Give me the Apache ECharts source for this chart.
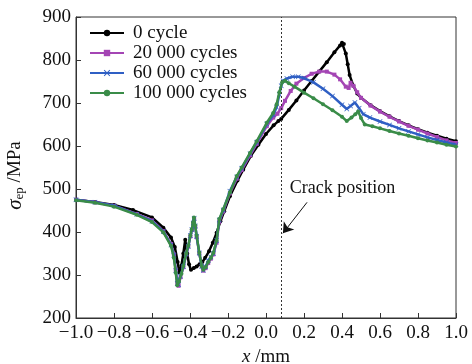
<!DOCTYPE html>
<html><head><meta charset="utf-8">
<script src="https://cdn.jsdelivr.net/npm/echarts@6/dist/echarts.min.js"></script>
<style>html,body{margin:0;padding:0;background:#fff}#c{width:472px;height:364px}</style>
</head><body><div id="c"></div>
<script>
// ---- data ----
const seriesNames = ['0 cycle', '20 000 cycles', '60 000 cycles', '100 000 cycles'];

const x0 = [-1.0,-0.9,-0.8,-0.7,-0.6,-0.54,-0.5,-0.48,-0.465,-0.456,-0.445,-0.435,-0.425,-0.415,-0.405,-0.395,-0.38,-0.365,-0.35,-0.335,-0.32,-0.3,-0.28,-0.26,-0.24,-0.22,-0.19,-0.15,-0.12,-0.08,-0.04,0.0,0.04,0.065,0.08,0.12,0.16,0.2,0.24,0.28,0.32,0.36,0.39,0.4,0.41,0.42,0.43,0.44,0.46,0.48,0.5,0.55,0.6,0.65,0.7,0.75,0.8,0.85,0.9,0.95,1.0];
const y0 = [475,470,463,451,434,410,387,365,330,306,322,350,382,350,325,312,316,320,325,330,340,355,375,398,425,448,483,520,545,577,603,628,648,658,663,684,706,729,751,773,795,818,834,840,837,815,790,765,740,722,712,695,681,669,658,648,639,631,624,617,611];

const x1 = [-1.0,-0.9,-0.8,-0.68,-0.6,-0.54,-0.5,-0.485,-0.475,-0.467,-0.46,-0.45,-0.435,-0.42,-0.409,-0.398,-0.39,-0.383,-0.378,-0.372,-0.365,-0.351,-0.338,-0.33,-0.318,-0.304,-0.29,-0.277,-0.26,-0.246,-0.225,-0.19,-0.154,-0.128,-0.084,-0.049,0.004,0.038,0.06,0.08,0.1,0.13,0.16,0.2,0.24,0.28,0.32,0.36,0.39,0.42,0.435,0.445,0.46,0.48,0.5,0.55,0.6,0.65,0.7,0.75,0.8,0.85,0.9,0.95,1.0];
const y1 = [475,469,461,442,427,402,372,348,312,282,275,295,318,348,366,390,405,420,430,412,388,350,320,310,316,328,338,348,375,424,448,490,524,544,578,605,646,666,675,688,705,728,745,758,768,773,773,766,755,738,735,747,740,725,712,694,680,668,657,647,638,629,621,613,607];

const x2 = [-1.0,-0.9,-0.8,-0.68,-0.6,-0.54,-0.5,-0.485,-0.475,-0.467,-0.46,-0.45,-0.435,-0.42,-0.409,-0.398,-0.39,-0.383,-0.378,-0.372,-0.365,-0.351,-0.338,-0.33,-0.318,-0.304,-0.29,-0.277,-0.26,-0.246,-0.225,-0.19,-0.154,-0.128,-0.084,-0.049,0.004,0.038,0.056,0.07,0.08,0.09,0.11,0.14,0.17,0.2,0.25,0.3,0.35,0.4,0.425,0.445,0.468,0.49,0.512,0.547,0.6,0.65,0.7,0.75,0.8,0.85,0.9,0.95,1.0];
const y2 = [475,469,461,441,425,401,370,346,310,280,278,297,320,349,367,392,406,421,432,414,390,351,320,311,319,334,342,350,380,428,451,495,528,548,582,609,651,672,690,720,740,752,757,761,761,758,748,733,716,696,686,693,701,688,674,666,657,649,641,634,627,620,614,608,603];

const x3 = [-1.0,-0.9,-0.8,-0.68,-0.6,-0.54,-0.5,-0.485,-0.475,-0.467,-0.458,-0.445,-0.435,-0.42,-0.409,-0.398,-0.391,-0.384,-0.379,-0.373,-0.365,-0.351,-0.338,-0.33,-0.318,-0.304,-0.29,-0.277,-0.26,-0.246,-0.225,-0.19,-0.154,-0.128,-0.084,-0.049,0.004,0.038,0.056,0.07,0.085,0.1,0.12,0.15,0.2,0.25,0.3,0.35,0.4,0.425,0.45,0.47,0.485,0.5,0.52,0.56,0.6,0.65,0.7,0.75,0.8,0.85,0.9,0.95,1.0];
const y3 = [474,468,459,440,423,399,368,340,305,276,285,303,321,350,368,392,406,422,434,415,391,352,321,312,318,330,340,352,380,430,453,492,530,550,584,611,654,677,697,725,748,752,746,738,724,711,697,683,668,658,666,674,680,665,650,646,641,635,629,624,618,613,608,603,599];

const xTicks = {min: -1.0, max: 1.0, interval: 0.2};
const yTicks = {min: 200, max: 900, interval: 100};
const crackX = 0.08;
const crackLabel = 'Crack position';
const crackLabelPos = [0.125, 502];
const arrowFrom = [0.216, 469];
const arrowTo = [0.089, 397];

// ---- chart ----
const font = 'Liberation Serif';
const colors = ['#000000', '#a445b4', '#2f5fc4', '#3a8c48'];
const symbols = ['circle', 'rect', 'path://M1,0L5,4L9,0L10,1L6,5L10,9L9,10L5,6L1,10L0,9L4,5L0,1Z', 'circle'];
const xs = [x0, x1, x2, x3], ys = [y0, y1, y2, y3];

const series = seriesNames.map((n, i) => ({
  name: n, type: 'line',
  data: xs[i].map((x, k) => [x, ys[i][k]]),
  symbol: symbols[i], symbolSize: i === 2 ? 5 : 4, showSymbol: true,
  lineStyle: {color: colors[i], width: 2.5},
  itemStyle: {color: colors[i]},
  z: 2 + i, animation: false
}));

series.push({
  name: 'annot', type: 'line', data: [], silent: true, animation: false,
  markLine: {
    silent: true, animation: false,
    data: [
      [{coord: [crackX, yTicks.min], symbol: 'none', lineStyle: {type: [2, 2], color: '#333', width: 1}},
       {coord: [crackX, yTicks.max], symbol: 'none'}],
      [{coord: arrowFrom, symbol: 'none', lineStyle: {type: 'solid', color: '#111', width: 1}},
       {coord: arrowTo, symbol: 'arrow', symbolSize: 10}]
    ],
    label: {show: false}
  },
  markPoint: {
    silent: true, animation: false,
    symbol: 'circle', symbolSize: 0,
    data: [{coord: crackLabelPos, value: crackLabel}],
    label: {show: true, position: 'right', distance: 0, formatter: crackLabel,
      color: '#111', fontFamily: font, fontSize: 18}
  }
});

const chart = echarts.init(document.getElementById('c'), null, {renderer: 'canvas'});
chart.setOption({
  animation: false,
  backgroundColor: '#fff',
  grid: {left: 76, right: 16, top: 17, bottom: 46, show: true, borderColor: '#333', borderWidth: 1, outerBoundsMode: 'none', containLabel: false},
  legend: {
    data: seriesNames, orient: 'vertical', left: 89, top: 23, padding: 0,
    itemWidth: 34, itemHeight: 8, itemGap: 0,
    textStyle: {fontFamily: font, fontSize: 19, color: '#111', padding: [0, 0, 0, 4], lineHeight: 20, height: 20}
  },
  xAxis: {
    type: 'value', min: xTicks.min, max: xTicks.max, interval: xTicks.interval,
    axisLine: {show: true, onZero: false, lineStyle: {color: '#333'}},
    axisTick: {show: true, inside: true, length: 5, lineStyle: {color: '#333'}},
    splitLine: {show: false},
    axisLabel: {fontFamily: font, fontSize: 19, color: '#111', margin: 6,
      formatter: v => (Math.abs(v) < 1e-9 ? '0.0' : (v < 0 ? '\u2212' : '') + Math.abs(v).toFixed(1))},
    name: '{i|x}{n| /mm}', nameLocation: 'middle', nameGap: 25,
    nameTextStyle: {rich: {
      i: {fontFamily: font, fontSize: 19, fontStyle: 'italic', color: '#111'},
      n: {fontFamily: font, fontSize: 19, color: '#111'}}}
  },
  yAxis: {
    type: 'value', min: yTicks.min, max: yTicks.max, interval: yTicks.interval,
    axisLine: {show: true, onZero: false, lineStyle: {color: '#333'}},
    axisTick: {show: true, inside: true, length: 5, lineStyle: {color: '#333'}},
    splitLine: {show: false},
    axisLabel: {fontFamily: font, fontSize: 19, color: '#111', margin: 5},
    name: '{i|\u03c3}{s|ep}{n| /MPa}', nameLocation: 'middle', nameGap: 50, nameRotate: 90,
    nameTextStyle: {padding: [0, 16, 0, 0], rich: {
      i: {fontFamily: font, fontSize: 21, fontStyle: 'italic', color: '#111'},
      s: {fontFamily: font, fontSize: 13, color: '#111', padding: [8, 0, 0, 0]},
      n: {fontFamily: font, fontSize: 19, color: '#111'}}}
  },
  series: series
});
</script>
</body></html>
